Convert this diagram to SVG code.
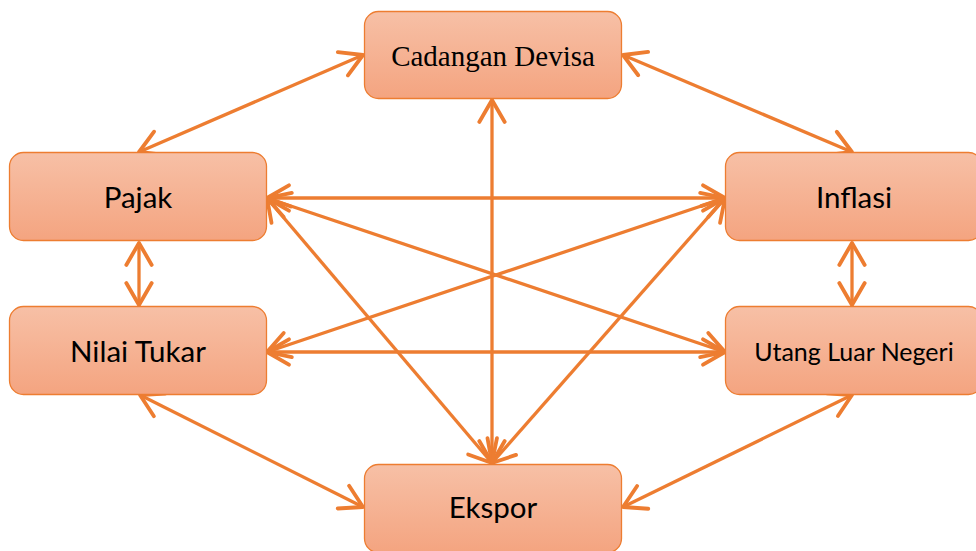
<svg xmlns="http://www.w3.org/2000/svg" width="976" height="551" viewBox="0 0 976 551">
  <defs>
    <linearGradient id="boxFill" x1="0" y1="0" x2="0" y2="1">
      <stop offset="0" stop-color="#F7C0A6"/>
      <stop offset="1" stop-color="#F4A480"/>
    </linearGradient>
    <marker id="head" markerUnits="userSpaceOnUse" markerWidth="30" markerHeight="30" viewBox="-22 -13 26 26" refX="0" refY="0" orient="auto-start-reverse">
      <path d="M-19,-11 L0,0 L-19,11" fill="none" stroke="#ED7D31" stroke-width="3.3" stroke-linecap="round" stroke-linejoin="round"/>
    </marker>
    <style>
      .box { fill: url(#boxFill); stroke: #ED7D31; stroke-width: 1.3; }
      .lbl { font-family: Lato, "Open Sans", "Noto Sans", sans-serif; font-size: 29.5px; fill: #000; text-anchor: middle; }
      .serif { font-family: "Liberation Serif", "Times New Roman", serif; font-size: 29px; }
      .small { font-size: 25px; }
      .link { fill: none; stroke: #ED7D31; stroke-width: 3.3; marker-start: url(#head); marker-end: url(#head); }
    </style>
  </defs>

  <g id="connectors">
    <line class="link" x1="363" y1="55" x2="139" y2="152"/>
    <line class="link" x1="623" y1="55" x2="852" y2="152"/>
    <line class="link" x1="492" y1="100" x2="492" y2="463"/>
    <line class="link" x1="139" y1="243" x2="139" y2="305"/>
    <line class="link" x1="852" y1="243" x2="852" y2="305"/>
    <line class="link" x1="140" y1="395" x2="363" y2="507"/>
    <line class="link" x1="852" y1="395" x2="623" y2="507"/>
    <line class="link" x1="267" y1="198" x2="725" y2="198"/>
    <line class="link" x1="267" y1="352" x2="725" y2="352"/>
    <line class="link" x1="267" y1="198" x2="725" y2="352"/>
    <line class="link" x1="267" y1="352" x2="725" y2="198"/>
    <line class="link" x1="267" y1="198" x2="492" y2="463"/>
    <line class="link" x1="725" y1="198" x2="492" y2="463"/>
  </g>

  <g id="cadangan-devisa">
    <rect class="box" x="364.5" y="11.5" width="257" height="87" rx="14"/>
    <text class="lbl serif" x="493" y="66">Cadangan Devisa</text>
  </g>

  <g id="pajak">
    <rect class="box" x="9.5" y="152.5" width="257" height="88" rx="14"/>
    <text class="lbl" x="138" y="208">Pajak</text>
  </g>

  <g id="inflasi">
    <rect class="box" x="725.5" y="152.5" width="257" height="88" rx="14"/>
    <text class="lbl" x="854" y="208">Inflasi</text>
  </g>

  <g id="nilai-tukar">
    <rect class="box" x="9.5" y="306.5" width="257" height="88" rx="14"/>
    <text class="lbl" x="138" y="362">Nilai Tukar</text>
  </g>

  <g id="utang-luar-negeri">
    <rect class="box" x="725.5" y="306.5" width="257" height="88" rx="14"/>
    <text class="lbl small" x="854" y="361">Utang Luar Negeri</text>
  </g>

  <g id="ekspor">
    <rect class="box" x="364.5" y="464.5" width="257" height="88" rx="14"/>
    <text class="lbl" x="493" y="518">Ekspor</text>
  </g>
</svg>
